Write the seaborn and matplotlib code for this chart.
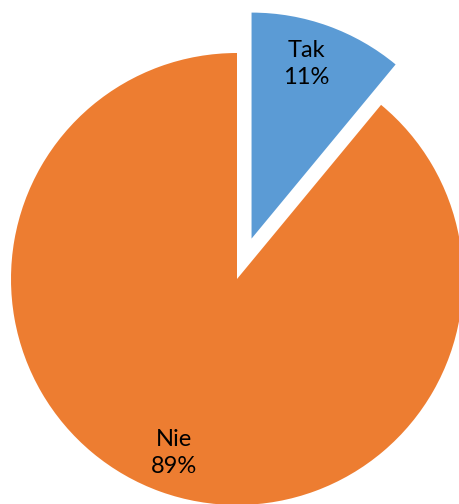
import matplotlib
matplotlib.use("Agg")
import matplotlib.pyplot as plt
import seaborn as sns

# chart data
categories = ["Tak", "Nie"]
values = [11, 89]
colors = ["#5B9BD5", "#ED7D31"]
explode = [0.19, 0.0]

sns.set_theme(style="white")
plt.rcParams['font.family'] = ['Lato', 'DejaVu Sans']

fig = plt.figure(figsize=(4.59, 5.04), dpi=100)
ax = fig.add_axes([0, 0, 1, 1])

labels = [f"{c}\n{v}%" for c, v in zip(categories, values)]
wedges, texts = ax.pie(values, labels=labels, colors=colors, explode=explode,
                       startangle=90, counterclock=False, radius=1.0,
                       labeldistance=0.82,
                       wedgeprops=dict(linewidth=0),
                       textprops=dict(ha='center', va='center', fontsize=17,
                                      color='black', multialignment='center',
                                      linespacing=1.35))

# small nudge of the Tak label towards the left, like Excel's placement
x, y = texts[0].get_position()
texts[0].set_position((x - 0.035, y))

# place pie centre at ~(237, 279) px with radius ~226 px
r = 226.0
ax.set_xlim(-237 / r, (459 - 237) / r)
ax.set_ylim(-(504 - 279) / r, 279 / r)
ax.set_aspect('equal')
ax.axis('off')

fig.savefig("out.png", dpi=100)
plt.close(fig)
